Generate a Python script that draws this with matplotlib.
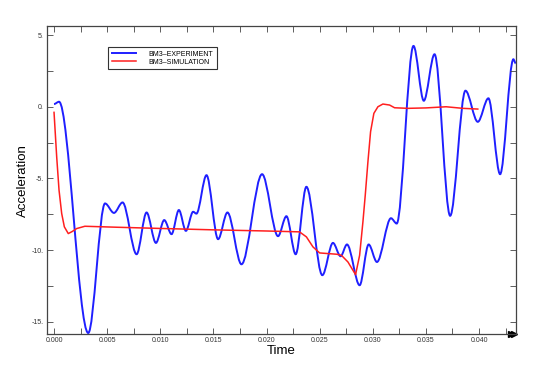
import numpy as np
import matplotlib
matplotlib.use('Agg')
import matplotlib.pyplot as plt
from matplotlib.path import Path
from matplotlib.patches import PathPatch
from matplotlib.ticker import MultipleLocator, FuncFormatter

plt.rcParams['font.family'] = ['Liberation Sans', 'DejaVu Sans']

# experiment: turning points (peaks / troughs)
exp_t = [0.0, 0.00047, 0.00322, 0.0048, 0.00564, 0.00645, 0.00777, 0.00871, 0.00959,
         0.01037, 0.01106, 0.01175, 0.01241, 0.01309, 0.0134, 0.01435, 0.01544,
         0.01632, 0.01764, 0.01958, 0.02108, 0.02187, 0.02274, 0.02375, 0.02525,
         0.02625, 0.02697, 0.02757, 0.02876, 0.02961, 0.03039, 0.03171, 0.03225,
         0.03383, 0.0348, 0.03581, 0.03728, 0.03872, 0.03988, 0.04088, 0.04198,
         0.04323, 0.04345]
exp_a = [0.19, 0.35, -15.77, -6.74, -7.40, -6.67, -10.28, -7.37, -9.49,
         -7.9, -8.88, -7.2, -8.65, -7.32, -7.45, -4.77, -9.23,
         -7.37, -10.98, -4.70, -9.02, -7.63, -10.28, -5.58, -11.74,
         -9.49, -10.42, -9.6, -12.44, -9.6, -10.82, -7.77, -8.14,
         4.24, 0.42, 3.66, -7.6, 1.12, -1.05, 0.59, -4.70,
         3.31, 3.03]

# simulation
sim_t = [0.0, 0.0001, 0.00025, 0.00047, 0.00072, 0.00097, 0.00134, 0.0017, 0.00213,
         0.0029, 0.006, 0.0104, 0.015, 0.02, 0.0231, 0.02375, 0.02437, 0.025,
         0.0266, 0.02704, 0.02766, 0.02813, 0.02838, 0.02876, 0.02907, 0.02929,
         0.02954, 0.02979, 0.0301, 0.03048, 0.03095, 0.03158, 0.03205, 0.0333,
         0.035, 0.0369, 0.03847, 0.03988]
sim_a = [-0.39, -1.63, -3.49, -5.81, -7.44, -8.37, -8.84, -8.70, -8.49,
         -8.33, -8.40, -8.49, -8.58, -8.66, -8.72, -9.07, -9.77, -10.19,
         -10.28, -10.35, -10.82, -11.4, -11.7, -10.35, -8.02, -6.16,
         -3.84, -1.74, -0.46, 0.0, 0.19, 0.12, -0.07, -0.11,
         -0.08, 0.0, -0.11, -0.16]

fig = plt.figure(figsize=(5.54, 3.73), dpi=100)
ax = fig.add_axes([0.0843, 0.1038, 0.8466, 0.8265])

# smooth curve through the turning points (flat tangent at each one)
verts = [(exp_t[0], exp_a[0])]
codes = [Path.MOVETO]
for i in range(1, len(exp_t)):
    t0, a0 = exp_t[i - 1], exp_a[i - 1]
    t1, a1 = exp_t[i], exp_a[i]
    dt = t1 - t0
    verts += [(t0 + dt / 3, a0), (t1 - dt / 3, a1), (t1, a1)]
    codes += [Path.CURVE4] * 3
ax.add_patch(PathPatch(Path(verts, codes), fill=False, edgecolor='#1f1fff', lw=1.4))
ax.plot([], [], color='#1f1fff', lw=1.4, label='BM3–EXPERIMENT')

ax.plot(sim_t, sim_a, color='#ff1f1f', lw=1.1, label='BM3–SIMULATION')

ax.set_xlim(-0.00069, 0.04345)
ax.set_ylim(-15.86, 5.63)

ax.xaxis.set_major_locator(MultipleLocator(0.005))
ax.xaxis.set_minor_locator(MultipleLocator(0.0025))
ax.yaxis.set_major_locator(MultipleLocator(5))
ax.yaxis.set_minor_locator(MultipleLocator(2.5))
ax.xaxis.set_major_formatter(FuncFormatter(lambda v, p: '%.3f' % v))
ax.yaxis.set_major_formatter(FuncFormatter(lambda v, p: '%d.' % round(v)))
ax.tick_params(which='both', direction='in', top=True, right=True, length=4,
               width=0.6, color='#444444', labelsize=5, labelcolor='#333333', pad=2)
for s in ax.spines.values():
    s.set_color('#444444')
    s.set_linewidth(0.9)

ax.set_xlabel('Time', fontsize=9.5, labelpad=1)
ax.set_ylabel('Acceleration', fontsize=9.5, labelpad=2)

# double arrow at the end of the time axis
ax.plot([0.989, 0.996], [0, 0], marker='>', ms=4, color='black', ls='none',
        transform=ax.transAxes, clip_on=False)

leg = ax.legend(loc='upper left', bbox_to_anchor=(0.124, 0.944), fontsize=5,
                handlelength=3.5, handletextpad=1.7, labelspacing=0.15,
                borderpad=0.55, fancybox=False, framealpha=1)
leg.get_frame().set_edgecolor('#333333')
leg.get_frame().set_linewidth(0.8)

fig.savefig('out.png', dpi=100)
